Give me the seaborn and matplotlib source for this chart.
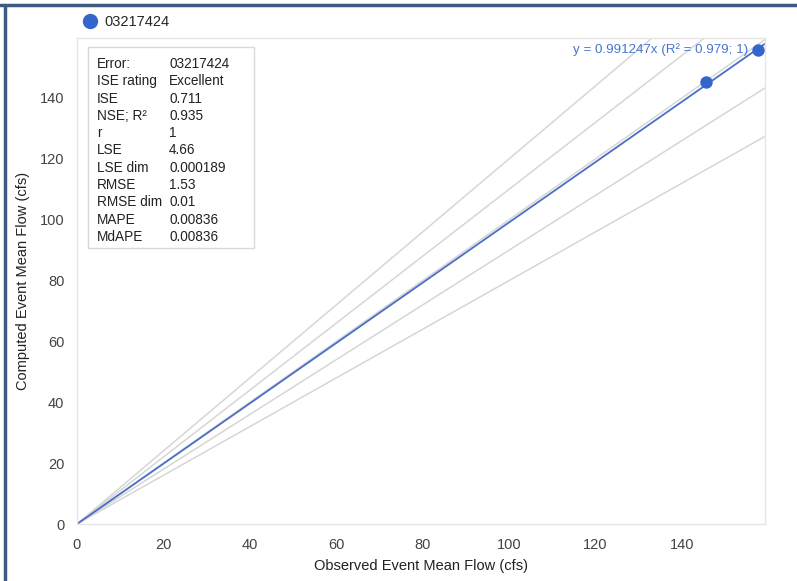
import numpy as np
import pandas as pd
import matplotlib
matplotlib.use("Agg")
import matplotlib.pyplot as plt
import seaborn as sns
from matplotlib.lines import Line2D

# --- data ---
site = "03217424"
observed = [145.5, 157.5]
computed = [145.2, 155.8]
trend_slope = 0.991247
trend_label = "y = 0.991247x (R² = 0.979; 1)"
ref_ratios = [0.8, 0.9, 1.0, 1.1, 1.2]
x_ticks = [0, 20, 40, 60, 80, 100, 120, 140]
y_ticks = [0, 20, 40, 60, 80, 100, 120, 140]
stat_names = ["Error:", "ISE rating", "ISE", "NSE; R²", "r", "LSE", "LSE dim",
              "RMSE", "RMSE dim", "MAPE", "MdAPE"]
stat_values = ["03217424", "Excellent", "0.711", "0.935", "1", "4.66", "0.000189",
               "1.53", "0.01", "0.00836", "0.00836"]

sns.set_style("white")
plt.rcParams['font.family'] = ['Liberation Sans', 'DejaVu Sans']

df = pd.DataFrame({"observed": observed, "computed": computed, "site": site})

fig = plt.figure(figsize=(7.97, 5.81), dpi=100)
ax = fig.add_axes([0.0966, 0.0981, 0.8632, 0.8365])

blue = "#3366cc"
grey_line = "#d6d6d6"

# reference ratio lines
for r in ref_ratios:
    ax.axline((0, 0), slope=r, color=grey_line, lw=1.1, zorder=1)

# trendline
ax.axline((0, 0), slope=trend_slope, color="#4a6fc4", lw=1.3, zorder=2)

sns.scatterplot(data=df, x="observed", y="computed", ax=ax, color=blue,
                s=80, edgecolor=blue, linewidth=0, zorder=3, legend=False)

ax.set_xlim(0, 159.2)
ax.set_ylim(0, 159.7)
ax.set_xticks(x_ticks)
ax.set_yticks(y_ticks)
ax.tick_params(axis="both", length=7, color="#e0e0e0", labelsize=10.5,
               labelcolor="#444444")
ax.tick_params(axis="y", pad=2)
ax.tick_params(axis="x", pad=3)
for s in ax.spines.values():
    s.set_color("#e6e6e6")
    s.set_linewidth(1)

ax.set_xlabel("Observed Event Mean Flow (cfs)", fontsize=10.5, color="#222222", labelpad=5)
ax.set_ylabel("Computed Event Mean Flow (cfs)", fontsize=10.5, color="#222222", labelpad=7)

# trendline label
ax.text(155.3, 155.8, trend_label, ha="right", va="center", fontsize=9.6,
        color="#4a74d0", zorder=4)

# stats box
box = plt.Rectangle((88 / 797, 1 - 248 / 581), (254 - 88) / 797, (248 - 47) / 581,
                    transform=fig.transFigure, facecolor="white",
                    edgecolor="#d9d9d9", lw=1, zorder=5)
fig.add_artist(box)
row_h = 17.3
for i, (n, v) in enumerate(zip(stat_names, stat_values)):
    yy = 1 - (64 + i * row_h) / 581
    fig.text(97 / 797, yy, n, fontsize=9.8, color="#222222", va="center", zorder=6)
    fig.text(169 / 797, yy, v, fontsize=9.8, color="#222222", va="center", zorder=6)

# legend at the top
handle = Line2D([], [], marker="o", color="none", markerfacecolor=blue,
                markeredgecolor=blue, markersize=10)
fig.legend([handle], [site], loc="center left", bbox_to_anchor=(72 / 797, 1 - 22 / 581),
           frameon=False, fontsize=10.5, handletextpad=0.2, borderpad=0,
           handlelength=1.5)

# figure frame (top and left only)
frame_col = "#3d5a80"
fig.add_artist(Line2D([0, 1], [1 - 5 / 581, 1 - 5 / 581], transform=fig.transFigure,
                      color=frame_col, lw=2.5))
fig.add_artist(Line2D([5 / 797, 5 / 797], [0, 1 - 5 / 581], transform=fig.transFigure,
                      color=frame_col, lw=2.5))

fig.savefig("out.png", dpi=100)
